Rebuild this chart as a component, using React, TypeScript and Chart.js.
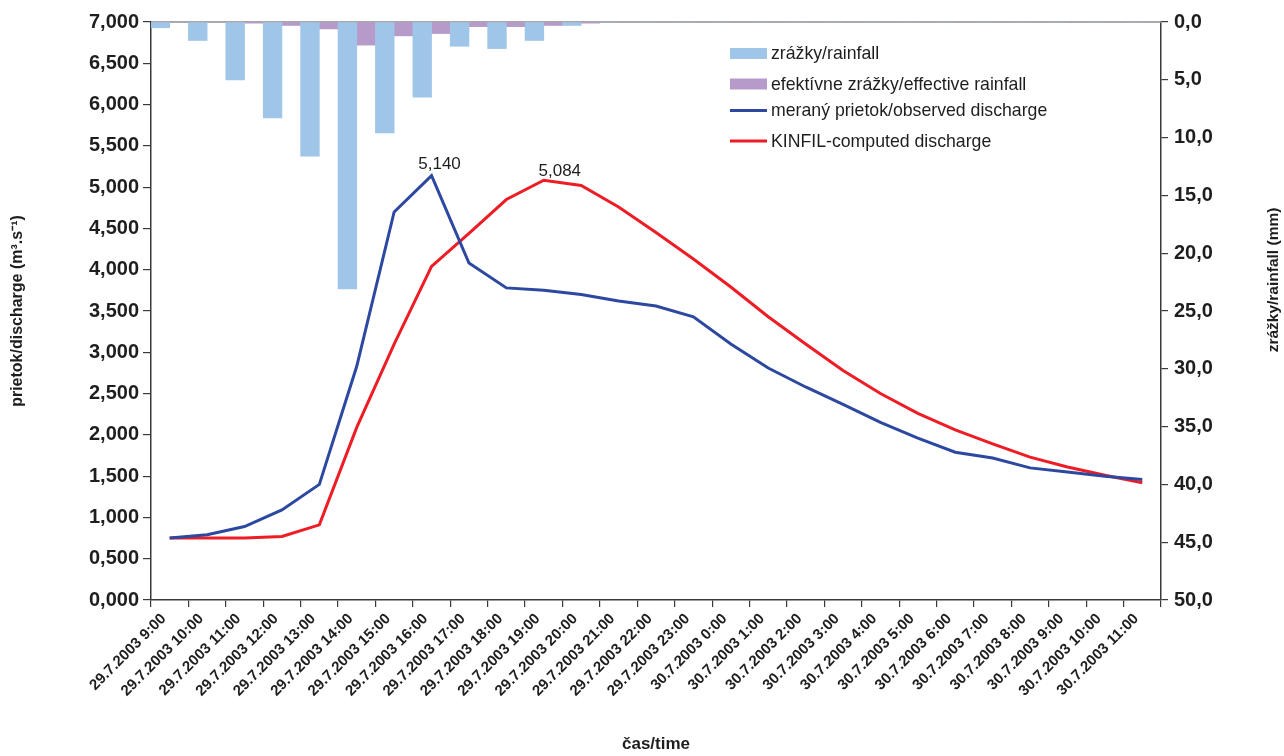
import { useEffect, useRef } from 'react';
import { Chart, registerables } from 'chart.js';

Chart.register(...registerables);

// Hourly time steps of the flood event
const timeLabels = [
  '29.7.2003 9:00', '29.7.2003 10:00', '29.7.2003 11:00', '29.7.2003 12:00',
  '29.7.2003 13:00', '29.7.2003 14:00', '29.7.2003 15:00', '29.7.2003 16:00',
  '29.7.2003 17:00', '29.7.2003 18:00', '29.7.2003 19:00', '29.7.2003 20:00',
  '29.7.2003 21:00', '29.7.2003 22:00', '29.7.2003 23:00', '30.7.2003 0:00',
  '30.7.2003 1:00', '30.7.2003 2:00', '30.7.2003 3:00', '30.7.2003 4:00',
  '30.7.2003 5:00', '30.7.2003 6:00', '30.7.2003 7:00', '30.7.2003 8:00',
  '30.7.2003 9:00', '30.7.2003 10:00', '30.7.2003 11:00',
];

// Rainfall depths (mm), plotted downward from the top on the right axis
const rainfall = [
  0.5, 1.6, 5.0, 8.3, 11.6, 23.1, 9.6, 6.5, 2.1, 2.3, 1.6, 0.3,
  0, 0, 0, 0, 0, 0, 0, 0, 0, 0, 0, 0, 0, 0, 0,
];
const effectiveRainfall = [
  0, 0, 0.1, 0.3, 0.6, 2.0, 1.2, 1.0, 0.4, 0.4, 0.3, 0.1,
  0, 0, 0, 0, 0, 0, 0, 0, 0, 0, 0, 0, 0, 0, 0,
];

// Discharge (m3/s)
const observedDischarge = [
  0.75, 0.79, 0.89, 1.09, 1.40, 2.83, 4.70, 5.14, 4.08, 3.78, 3.75, 3.70,
  3.62, 3.56, 3.43, 3.10, 2.81, 2.58, 2.37, 2.15, 1.96, 1.79, 1.72, 1.60,
  1.55, 1.50, 1.46,
];
const computedDischarge = [
  0.75, 0.75, 0.75, 0.77, 0.91, 2.09, 3.10, 4.04, 4.44, 4.85, 5.084, 5.02,
  4.76, 4.45, 4.13, 3.79, 3.43, 3.10, 2.78, 2.50, 2.26, 2.06, 1.89, 1.73,
  1.61, 1.51, 1.42,
];

const legendItems = [
  'zrážky/rainfall',
  'efektívne zrážky/effective rainfall',
  'meraný prietok/observed discharge',
  'KINFIL-computed discharge',
];

const FONT = "'Liberation Sans', Arial, Helvetica, sans-serif";
const RAIN_COLOR = '#9fc5e8';
const EFFECTIVE_COLOR = '#b59aca';
const OBSERVED_COLOR = '#2c48a0';
const COMPUTED_COLOR = '#ee1c24';
const TEXT_COLOR = '#1e1e1e';
const AXIS_COLOR = '#3a3a3a';

const decimalComma = (v: number, digits: number) => v.toFixed(digits).replace('.', ',');

const peakIndex = (values: number[]) => values.indexOf(Math.max(...values));

const decorations = {
  id: 'decorations',
  beforeDatasetsDraw(chart: any) {
    const { ctx, chartArea: a } = chart;
    ctx.save();
    ctx.strokeStyle = '#8c8c8c';
    ctx.lineWidth = 1.5;
    ctx.beginPath();
    ctx.moveTo(a.left, a.top);
    ctx.lineTo(a.right, a.top);
    ctx.stroke();
    ctx.restore();
  },
  afterDraw(chart: any) {
    const { ctx, chartArea: a } = chart;
    ctx.save();

    // peak value labels
    ctx.font = `17px ${FONT}`;
    ctx.fillStyle = TEXT_COLOR;
    ctx.textAlign = 'center';
    ctx.textBaseline = 'alphabetic';
    const peaks = [
      { ds: 2, values: observedDischarge, dx: 8, dy: -7 },
      { ds: 3, values: computedDischarge, dx: 16, dy: -4 },
    ];
    peaks.forEach((p) => {
      const i = peakIndex(p.values);
      const pt = chart.getDatasetMeta(p.ds).data[i];
      ctx.fillText(decimalComma(p.values[i], 3), pt.x + p.dx, pt.y + p.dy);
    });

    // legend
    const rowsY = [53.5, 84, 110.5, 141];
    const lx = 730;
    const lw = 37;
    legendItems.forEach((label, k) => {
      const y = rowsY[k];
      if (k < 2) {
        ctx.fillStyle = k === 0 ? RAIN_COLOR : EFFECTIVE_COLOR;
        ctx.fillRect(lx, y - 5.5, lw, 11);
      } else {
        ctx.strokeStyle = k === 2 ? OBSERVED_COLOR : COMPUTED_COLOR;
        ctx.lineWidth = 3;
        ctx.beginPath();
        ctx.moveTo(lx, y);
        ctx.lineTo(lx + lw, y);
        ctx.stroke();
      }
      ctx.fillStyle = TEXT_COLOR;
      ctx.font = `17.7px ${FONT}`;
      ctx.textAlign = 'left';
      ctx.textBaseline = 'middle';
      ctx.fillText(label, lx + lw + 4, y + 1);
    });

    // axis titles
    ctx.fillStyle = TEXT_COLOR;
    ctx.textAlign = 'center';
    ctx.textBaseline = 'middle';
    ctx.font = `bold 16px ${FONT}`;
    ctx.save();
    ctx.translate(18, (a.top + a.bottom) / 2);
    ctx.rotate(-Math.PI / 2);
    ctx.fillText('prietok/discharge (m³.s⁻¹)', 0, 0);
    ctx.restore();

    ctx.font = `bold 15.5px ${FONT}`;
    ctx.save();
    ctx.translate(1274, 280);
    ctx.rotate(-Math.PI / 2);
    ctx.fillText('zrážky/rainfall (mm)', 0, 0);
    ctx.restore();

    ctx.font = `bold 17px ${FONT}`;
    ctx.fillText('čas/time', (a.left + a.right) / 2, 744);

    ctx.restore();
  },
};

export default function App() {
  const canvasRef = useRef<HTMLCanvasElement>(null);

  useEffect(() => {
    if (!canvasRef.current) return;
    const chart = new Chart(canvasRef.current, {
      type: 'bar',
      data: {
        labels: timeLabels,
        datasets: [
          {
            type: 'bar',
            label: legendItems[0],
            data: rainfall,
            backgroundColor: RAIN_COLOR,
            yAxisID: 'y2',
            categoryPercentage: 1,
            barPercentage: 1,
            order: 2,
          },
          {
            type: 'bar',
            label: legendItems[1],
            data: effectiveRainfall,
            backgroundColor: EFFECTIVE_COLOR,
            yAxisID: 'y2',
            categoryPercentage: 1,
            barPercentage: 1,
            order: 2,
          },
          {
            type: 'line',
            label: legendItems[2],
            data: observedDischarge,
            borderColor: OBSERVED_COLOR,
            borderWidth: 3,
            pointRadius: 0,
            tension: 0,
            yAxisID: 'y',
            order: 0,
          },
          {
            type: 'line',
            label: legendItems[3],
            data: computedDischarge,
            borderColor: COMPUTED_COLOR,
            borderWidth: 3,
            pointRadius: 0,
            tension: 0,
            yAxisID: 'y',
            order: 0,
          },
        ],
      },
      options: {
        animation: false,
        responsive: true,
        maintainAspectRatio: false,
        layout: { padding: { top: 22, left: 0, right: 0, bottom: 0 } },
        plugins: {
          legend: { display: false },
          tooltip: { enabled: false },
        },
        scales: {
          x: {
            type: 'category',
            offset: true,
            grid: {
              display: true,
              offset: true,
              drawOnChartArea: false,
              drawTicks: true,
              tickLength: 7,
              tickColor: AXIS_COLOR,
              lineWidth: 1.2,
            },
            border: { display: true, color: AXIS_COLOR, width: 1.5 },
            ticks: {
              autoSkip: false,
              maxRotation: 45,
              minRotation: 45,
              padding: 3,
              labelOffset: -6,
              color: TEXT_COLOR,
              font: { family: FONT, size: 15, weight: 'bold' },
            },
            afterFit: (s: any) => { s.height = 156; },
          },
          y: {
            position: 'left',
            min: 0,
            max: 7,
            grid: {
              display: true,
              drawOnChartArea: false,
              drawTicks: true,
              tickLength: 8,
              tickColor: AXIS_COLOR,
              lineWidth: 1.2,
            },
            border: { display: true, color: AXIS_COLOR, width: 1.5 },
            ticks: {
              stepSize: 0.5,
              padding: 4,
              color: TEXT_COLOR,
              font: { family: FONT, size: 20, weight: 'bold' },
              callback: (v: any) => decimalComma(Number(v), 3),
            },
            afterFit: (s: any) => { s.width = 151; },
          },
          y2: {
            position: 'right',
            reverse: true,
            min: 0,
            max: 50,
            grid: {
              display: true,
              drawOnChartArea: false,
              drawTicks: true,
              tickLength: 7,
              tickColor: AXIS_COLOR,
              lineWidth: 1.2,
            },
            border: { display: true, color: AXIS_COLOR, width: 1.5 },
            ticks: {
              stepSize: 5,
              padding: 6,
              color: TEXT_COLOR,
              font: { family: FONT, size: 20, weight: 'bold' },
              callback: (v: any) => decimalComma(Number(v), 1),
            },
            afterFit: (s: any) => { s.width = 123; },
          },
        },
      },
      plugins: [decorations],
    });
    return () => chart.destroy();
  }, []);

  return (
    <div style={{ position: 'fixed', left: 0, top: 0, width: 1284, height: 756, background: '#ffffff' }}>
      <canvas ref={canvasRef} />
    </div>
  );
}
